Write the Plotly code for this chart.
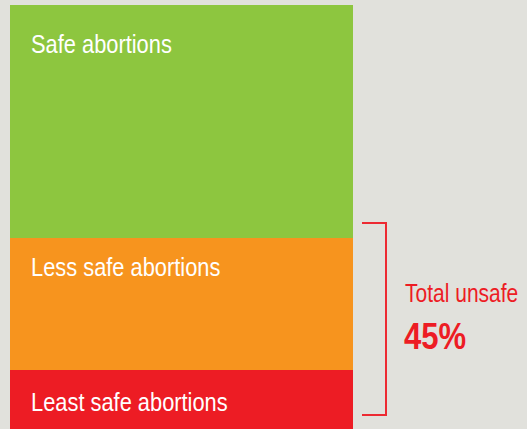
import plotly.graph_objects as go

categories = ["Least safe abortions", "Less safe abortions", "Safe abortions"]
values = [14, 31, 55]
colors = ["#ed1c24", "#f7941e", "#8dc63f"]
total_label = "Total unsafe"
total_value = "45%"

W, H = 527, 429
FONT = "Liberation Sans Narrow, Arial Narrow, Liberation Sans, Arial, sans-serif"

fig = go.Figure()
for cat, v, c in zip(categories, values, colors):
    fig.add_trace(go.Bar(x=[0], y=[v], name=cat, marker=dict(color=c, line=dict(width=0)),
                         width=1, hoverinfo="skip", showlegend=False))

def py(pix):
    return (H - pix) / H

ann = []
label_pix = {"Safe abortions": 44, "Less safe abortions": 267, "Least safe abortions": 402}
for cat in categories:
    ann.append(dict(text=cat, xref="paper", yref="paper", x=29 / W, y=py(label_pix[cat]),
                    xanchor="left", yanchor="middle", showarrow=False,
                    font=dict(family=FONT, size=26, color="white")))
ann.append(dict(text=total_label, xref="paper", yref="paper", x=403 / W, y=py(293),
                xanchor="left", yanchor="middle", showarrow=False,
                font=dict(family=FONT, size=25, color="#ed1c24")))
ann.append(dict(text="<b>" + total_value + "</b>", xref="paper", yref="paper", x=402 / W, y=py(336),
                xanchor="left", yanchor="middle", showarrow=False,
                font=dict(family=FONT, size=37, color="#ed1c24")))

# bracket
x0, x1 = 362 / W, 386 / W
yt, yb = py(223), py(415)
bracket = dict(type="path", xref="paper", yref="paper",
               path=f"M {x0} {yt} L {x1} {yt} L {x1} {yb} L {x0} {yb}",
               line=dict(color="#ed2a32", width=2))

r0 = -0.5 - 10 / 343
r1 = r0 + W / 343
fig.update_layout(
    barmode="stack", width=W, height=H, margin=dict(l=0, r=0, t=0, b=0),
    paper_bgcolor="#e1e1dc", plot_bgcolor="#e1e1dc",
    xaxis=dict(range=[r0, r1], visible=False, fixedrange=True),
    yaxis=dict(range=[0, 100 * H / 424], visible=False, fixedrange=True),
    annotations=ann, shapes=[bracket], bargap=0,
)

# condensed look: narrow the annotation texts horizontally (text stays real text)
post = """
var gd = document.getElementById('{plot_id}');
function squeeze(){
  gd.querySelectorAll('.annotation-text').forEach(function(t){
    t.style.transformBox = 'fill-box';
    t.style.transformOrigin = '0% 50%';
    t.style.transform = 'scaleX(0.84)';
  });
}
squeeze();
if (gd.on) { gd.on('plotly_afterplot', squeeze); }
"""
fig.write_html("out.html", post_script=post)
